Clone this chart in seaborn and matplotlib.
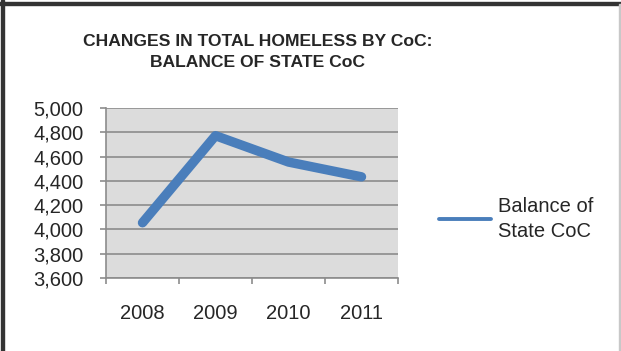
import matplotlib
matplotlib.use("Agg")
import matplotlib.pyplot as plt
import seaborn as sns
import pandas as pd
from matplotlib.patches import Rectangle
from matplotlib.ticker import FixedLocator

years = ["2008", "2009", "2010", "2011"]
values = [4055, 4772, 4555, 4433]
series_name = "Balance of\nState CoC"
title = "CHANGES IN TOTAL HOMELESS BY CoC:\nBALANCE OF STATE CoC"
y_ticks = [3600, 3800, 4000, 4200, 4400, 4600, 4800, 5000]

sns.set_style("white")
plt.rcParams['font.family'] = ['Liberation Sans', 'DejaVu Sans']

df = pd.DataFrame({"year": years, "value": values, "series": series_name})

fig = plt.figure(figsize=(6.21, 3.51), dpi=100)
ax = fig.add_axes([106/621, 1-278/351, (398-106)/621, (278-108)/351])
ax.set_facecolor("#dcdcdc")

x_pos = list(range(len(years)))
df["x"] = x_pos
sns.lineplot(data=df, x="x", y="value", ax=ax, color="#4a7ebb", linewidth=6.8,
             solid_capstyle="round", label=series_name, legend=False, zorder=3)

ax.set_xlim(-0.5, len(years) - 0.5)
ax.set_ylim(3600, 5000)
ax.set_yticks(y_ticks)
ax.set_yticklabels([f"{v:,}" for v in y_ticks], fontsize=14.5)
ax.yaxis.grid(True, color="#8c8c8c", linewidth=1.2)
ax.set_axisbelow(True)

ax.set_xticks([i - 0.5 for i in range(len(years) + 1)])
ax.set_xticklabels([])
ax.xaxis.set_minor_locator(FixedLocator(x_pos))
ax.set_xticklabels(years, minor=True, fontsize=14.5)
ax.tick_params(axis="x", which="major", direction="out", length=4.3, color="#8c8c8c", width=1.2, bottom=True)
ax.tick_params(axis="x", which="minor", length=0, pad=19)
ax.tick_params(axis="y", direction="out", length=4.3, color="#8c8c8c", width=1.2, left=True, pad=12)
ax.set_xlabel("")
ax.set_ylabel("")
for s in ["top", "right"]:
    ax.spines[s].set_visible(False)
for s in ["left", "bottom"]:
    ax.spines[s].set_color("#8c8c8c")
    ax.spines[s].set_linewidth(1.2)

fig.text(258/621, 1-52/351, title, ha="center", va="center", fontsize=12.6,
         fontweight="bold", linespacing=1.45)

handles, labels = ax.get_legend_handles_labels()
leg = fig.legend(handles, labels, loc="center left", bbox_to_anchor=(421/621, 1-219/351),
                 frameon=False, fontsize=14.5, handlelength=2.6, handletextpad=0.3)
for line in leg.get_lines():
    line.set_linewidth(2.8)
    line.set_solid_capstyle("round")
for t in leg.get_texts():
    t.set_linespacing(1.35)

fig.patches.append(Rectangle((0.5/621, 0), 3/621, 1, transform=fig.transFigure,
                             color="#333333", zorder=10))
fig.patches.append(Rectangle((0, 1-5/351), 1, 3/351, transform=fig.transFigure,
                             color="#333333", zorder=10))
fig.patches.append(Rectangle((619/621, 0), 1.5/621, 1-4/351, transform=fig.transFigure,
                             color="#c8c8c8", zorder=10))

fig.savefig("out.png", dpi=100)
